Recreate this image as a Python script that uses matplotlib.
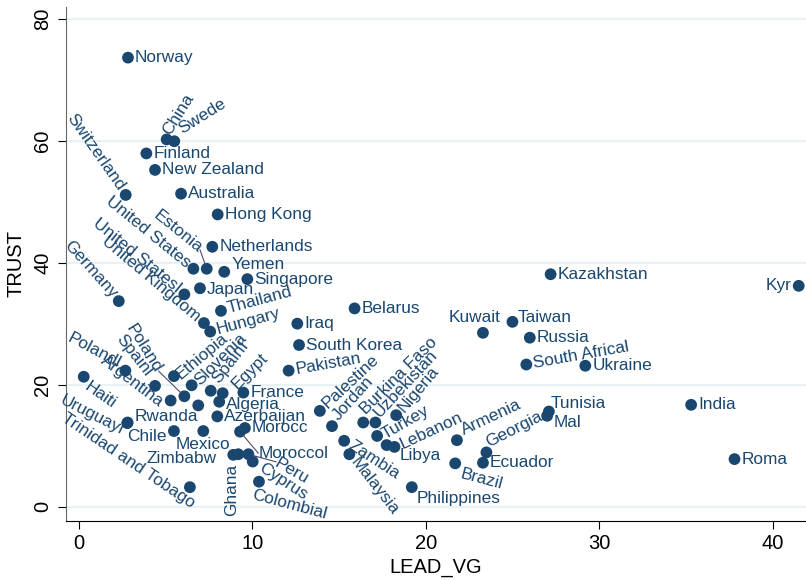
import numpy as np
import matplotlib.pyplot as plt

plt.rcParams['font.family'] = ['Liberation Sans', 'DejaVu Sans']

# country labels, LEAD_VG (x) and TRUST (y)
countries = [
    'Norway', 'China', 'Swede', 'Finland', 'New Zealand', 'Switzerland',
    'Australia', 'Hong Kong', 'Netherlands', 'United States', 'Estonia',
    'Yemen', 'Singapore', 'Japan', 'United StatesI', 'Germany', 'Thailand',
    'United Kingdom', 'Hungary', 'Iraq', 'South Korea', 'Pakistan', 'Belarus',
    'Haiti', 'Polandl', 'Spainl', 'Argentina', 'Poland', 'Ethiopia',
    'Slovenia', 'SpainI', 'Egypt', 'Algeria', 'France', '', 'Azerbaijan',
    'Rwanda', 'Uruguayl', 'Chile', 'Mexico', 'Morocc', 'Moroccol', 'Zimbabw',
    'Ghana', 'Peru', 'Cyprus', 'Colombial', 'Trinidad and Tobago',
    'Palestine', 'Jordan', 'Zambia', 'Malaysia', 'Burkina Faso', 'Uzbekistan',
    'Nigeria', 'Turkey', 'Lebanon', 'Libya', 'Philippines', 'Armenia',
    'Brazil', 'Georgia', 'Ecuador', 'Kuwait', 'Taiwan', 'Russia',
    'South Africal', 'Ukraine', 'Kazakhstan', 'Kyr', 'Tunisia', 'Mal',
    'India', 'Roma',
]
lead_vg = [
    2.84, 5.07, 5.51, 3.90, 4.40, 2.71,
    5.90, 8.01, 7.70, 6.61, 7.38,
    8.39, 9.72, 6.99, 6.09, 2.31, 8.20,
    7.22, 7.58, 12.6, 12.7, 12.1, 15.9,
    0.29, 2.69, 4.40, 5.30, 6.09, 5.49,
    6.51, 7.61, 8.30, 8.10, 9.49, 6.89, 7.99,
    2.82, 2.80, 5.49, 7.18, 9.58, 9.30, 8.91,
    9.20, 9.78, 10.03, 10.39, 6.41,
    13.9, 14.6, 15.3, 15.6, 16.4, 17.1,
    18.3, 17.2, 18.2, 17.75, 19.2, 21.8,
    21.7, 23.5, 23.3, 23.3, 25.0, 26.0,
    25.8, 29.2, 27.2, 41.5, 27.1, 27.0,
    35.3, 37.8,
]
trust = [
    73.6, 60.2, 59.9, 57.9, 55.2, 51.1,
    51.3, 47.9, 42.6, 39.0, 39.0,
    38.5, 37.3, 35.8, 34.8, 33.7, 32.1,
    30.1, 28.7, 30.0, 26.5, 22.3, 32.5,
    21.3, 22.3, 19.8, 17.4, 18.1, 21.4,
    19.9, 19.0, 18.6, 17.2, 18.7, 16.6, 14.8,
    13.8, 13.7, 12.4, 12.4, 12.9, 12.3, 8.5,
    8.6, 8.6, 7.4, 4.1, 3.2,
    15.7, 13.2, 10.8, 8.6, 13.8, 13.8,
    15.0, 11.6, 9.8, 10.1, 3.2, 10.9,
    7.1, 8.9, 7.2, 28.5, 30.3, 27.7,
    23.3, 23.1, 38.1, 36.2, 15.6, 14.9,
    16.7, 7.8,
]

# label placement: angle, side (r = right of marker, l = left, c = centred), extra offset in points
label_pos = {
    'China': (58, 'r', -3, 0), 'Swede': (32, 'r', 0, 5),
    'Yemen': (0, 'r', 0, 5), 'Japan': (0, 'r', 0, -1),
    'Thailand': (15, 'r', 0, 0), 'Hungary': (15, 'r', 0, 0),
    'Pakistan': (10, 'r', 0, 0),
    'Switzerland': (-55, 'l', 0, 0), 'United States': (-39, 'l', 0, 0),
    'Estonia': (-39, 'l', -1, 10.6), 'United StatesI': (-39, 'l', 0, 0),
    'United Kingdom': (-40, 'l', 0, 0), 'Germany': (-48, 'l', 0, 0),
    'Haiti': (-35, 'r', -2, -3), 'Polandl': (-28, 'l', 0, 2),
    'Spainl': (-52, 'l', -1.7, 4), 'Argentina': (-37, 'l', -2.5, -5.4),
    'Poland': (-58, 'l', -16, 14), 'Uruguayl': (-27, 'l', 1.2, -7.5),
    'Trinidad and Tobago': (-34, 'l', 6.5, -15.5),
    'Ethiopia': (40, 'r', -1, -3), 'Slovenia': (45, 'r', 0, -2),
    'SpainI': (52, 'r', 0, 2.6), 'Egypt': (45, 'r', 5, 1),
    'Algeria': (0, 'r', 0, -2), 'Rwanda': (0, 'r', 0, 4),
    'Chile': (0, 'l', 0, -4), 'Mexico': (0, 'c', 0, -10),
    'Zimbabw': (0, 'l', -7, -2.4), 'Ghana': (90, 'l', -4.8, -1.7),
    'Moroccol': (0, 'r', 8.2, -15.6), 'Peru': (-30, 'r', 15.7, -3),
    'Cyprus': (-33, 'r', 1, -1), 'Colombial': (-15, 'r', -9.3, -8.3),
    'Palestine': (43, 'r', 0, 0), 'Jordan': (48, 'r', -1, 2),
    'Burkina Faso': (45, 'r', -3.5, 4.4), 'Uzbekistan': (47, 'r', -2.7, 1.8),
    'Nigeria': (50, 'r', 0, 0), 'Turkey': (30, 'r', 0, -2),
    'Lebanon': (25, 'r', 0, -1), 'Libya': (0, 'r', 4.6, -7.2),
    'Zambia': (-33, 'r', 0, 0), 'Malaysia': (-52, 'r', 0, 0),
    'Philippines': (0, 'r', -1.6, -8), 'Armenia': (25, 'r', -1, 4.6),
    'Brazil': (-15, 'r', -0.5, -6), 'Georgia': (27, 'r', -4.5, 4),
    'Kuwait': (0, 'c', -5.8, 10.8), 'Taiwan': (0, 'r', -1, 3),
    'South Africal': (10, 'r', 0, 0), 'Kyr': (0, 'l', 0, 0),
    'Tunisia': (0, 'r', -4, 6), 'Mal': (0, 'r', 0, -5),
}
connected = ['Estonia', 'Poland', 'Moroccol', 'Peru']

navy = '#1a476f'
fig = plt.figure(figsize=(8.06, 5.8), dpi=100)
ax = fig.add_axes([0.0815, 0.1022, 0.9185, 0.8857])

for yv in [0, 20, 40, 60, 80]:
    ax.axhline(yv, color='#e8f1f3', lw=1.5, zorder=0)

ax.scatter(lead_vg, trust, s=72, color=navy, edgecolors='none', zorder=3)

for name, x, y in zip(countries, lead_vg, trust):
    if not name:
        continue
    ang, side, ex, ey = label_pos.get(name, (0, 'r', 0, 0))
    gap = 5
    c, s = np.cos(np.radians(ang)), np.sin(np.radians(ang))
    if side == 'r':
        dx, dy, ha = gap * c + ex, gap * s + ey, 'left'
    elif side == 'l':
        dx, dy, ha = -gap * c + ex, -gap * s + ey, 'right'
    else:
        dx, dy, ha = ex, ey, 'center'
    ax.annotate(name, (x, y), xytext=(dx, dy), textcoords='offset points',
                ha=ha, va='center', rotation=ang, rotation_mode='anchor',
                fontsize=12.4, color=navy, zorder=4)
    if name in connected:
        ax.annotate('', (x, y), xytext=(dx, dy), textcoords='offset points',
                    arrowprops=dict(arrowstyle='-', color='#54476e', lw=0.8,
                                    shrinkA=0, shrinkB=3.5))

ax.set_xlim(-0.75, 41.92)
ax.set_ylim(-2.3, 81.9)
ax.set_xticks([0, 10, 20, 30, 40])
ax.set_yticks([0, 20, 40, 60, 80])
ax.tick_params(axis='both', labelsize=14.5, length=6, width=0.8)
for lab in ax.get_yticklabels():
    lab.set_rotation(90)
    lab.set_va('center')
ax.set_xlabel('LEAD_VG', fontsize=14.5, labelpad=4)
ax.set_ylabel('TRUST', fontsize=14.5, labelpad=6)
ax.spines['top'].set_visible(False)
ax.spines['right'].set_visible(False)
ax.spines['left'].set_color('#666666')

fig.savefig('out.png', dpi=100)
